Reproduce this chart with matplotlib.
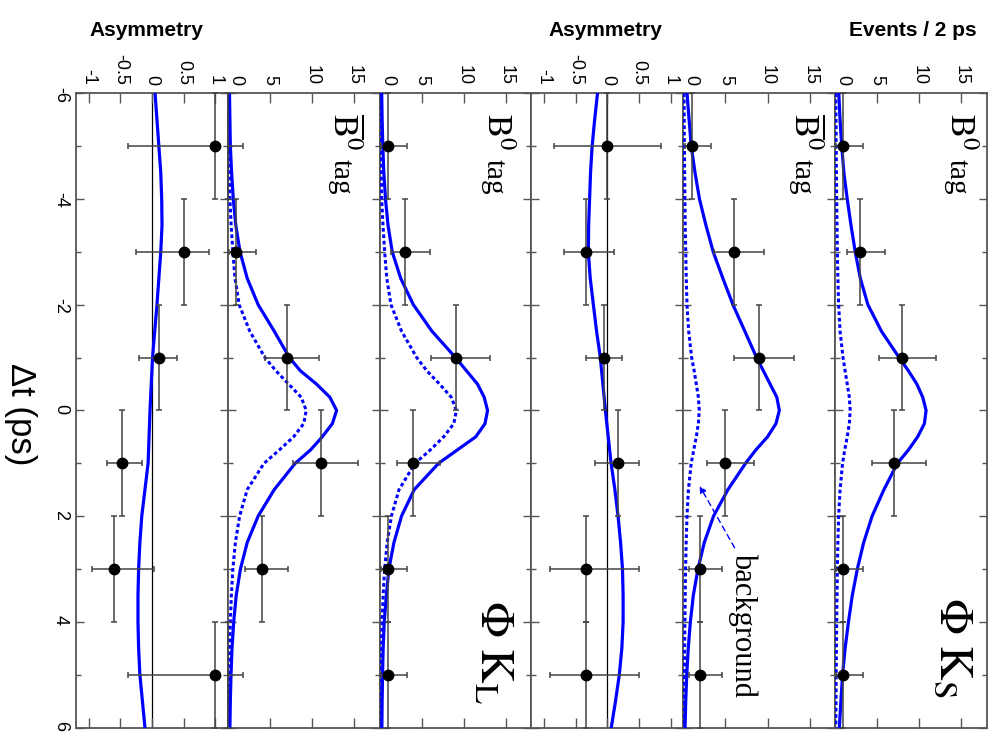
import numpy as np
import matplotlib
matplotlib.use("Agg")
import matplotlib.pyplot as plt
from matplotlib.ticker import MultipleLocator
from matplotlib.transforms import ScaledTranslation

plt.rcParams['font.family'] = ['Liberation Sans', 'DejaVu Sans']
plt.rcParams['mathtext.fontset'] = 'stix'
plt.rcParams['axes.unicode_minus'] = False

# 2 ps bins in delta t
dt_bins = [-5, -3, -1, 1, 3, 5]

# events per bin and their error bar ends
phiks_b0 = [1, 3, 8, 7, 1, 1]
phiks_b0_lo = [0.17, 1.37, 5.23, 4.42, 0.17, 0.17]
phiks_b0_hi = [3.30, 5.92, 11.95, 10.77, 3.30, 3.30]
phiks_b0bar = [1, 6, 9, 5, 2, 2]
phiks_b0bar_lo = [0.17, 3.62, 6.06, 2.84, 0.71, 0.71]
phiks_b0bar_hi = [3.30, 9.58, 13.11, 8.38, 4.64, 4.64]
phikl_b0 = [1, 3, 9, 4, 1, 1]
phikl_b0_lo = [0.17, 1.37, 6.06, 2.09, 0.17, 0.17]
phikl_b0_hi = [3.30, 5.92, 13.11, 7.16, 3.30, 3.30]
phikl_b0bar = [0, 1, 7, 11, 4, 0]
phikl_b0bar_lo = [0.0, 0.17, 4.42, 7.73, 2.09, 0.0]
phikl_b0bar_hi = [1.84, 3.30, 10.77, 15.42, 7.16, 1.84]

# asymmetry per bin
phiks_asym = [0.0, -0.33, -0.06, 0.17, -0.33, -0.33]
phiks_asym_lo = [-0.84, -0.68, -0.34, -0.20, -0.90, -0.90]
phiks_asym_hi = [0.85, 0.11, 0.24, 0.50, 0.50, 0.50]
phikl_asym = [1.0, 0.5, 0.12, -0.47, -0.6, 1.0]
phikl_asym_lo = [-0.37, -0.25, -0.20, -0.71, -0.95, -0.37]
phikl_asym_hi = [1.0, 0.90, 0.40, -0.15, 0.04, 1.0]

# fit curves
fit_dt = [-6, -5.5, -5, -4.5, -4, -3.5, -3, -2.5, -2, -1.5, -1, -0.75, -0.5, -0.25,
          0, 0.25, 0.5, 0.75, 1, 1.5, 2, 2.5, 3, 3.5, 4, 4.5, 5, 5.5, 6]
phiks_b0_fit = [0.45, 0.6, 0.8, 1.05, 1.45, 1.9, 2.4, 3.0, 3.9, 5.5, 7.6, 8.7, 9.7, 10.4,
                10.8, 10.6, 9.8, 8.7, 7.4, 5.8, 4.4, 3.4, 2.65, 2.05, 1.6, 1.2, 0.9, 0.7, 0.52]
phiks_b0bar_fit = [0.45, 0.7, 0.95, 1.4, 1.93, 2.7, 3.56, 4.7, 5.9, 7.3, 8.7, 9.5, 10.3, 11.1,
                   11.4, 11.0, 10.0, 8.6, 7.4, 5.3, 3.6, 2.5, 1.75, 1.2, 0.85, 0.6, 0.42, 0.3, 0.22]
phiks_b0_bkg = [0.1, 0.12, 0.14, 0.17, 0.2, 0.24, 0.28, 0.34, 0.43, 0.6, 0.95, 1.2, 1.45, 1.7,
                1.8, 1.7, 1.45, 1.15, 0.9, 0.6, 0.43, 0.34, 0.28, 0.24, 0.2, 0.17, 0.14, 0.12, 0.1]
phiks_b0bar_bkg = [0.1, 0.12, 0.14, 0.17, 0.2, 0.24, 0.3, 0.36, 0.45, 0.65, 1.0, 1.3, 1.55, 1.8,
                   1.9, 1.8, 1.55, 1.25, 0.95, 0.62, 0.45, 0.35, 0.28, 0.24, 0.2, 0.17, 0.14, 0.12, 0.1]
phikl_b0_fit = [0.25, 0.3, 0.38, 0.5, 0.7, 1.0, 1.5, 2.5, 4.0, 6.2, 9.0, 10.3, 11.6, 12.4,
                12.8, 12.5, 11.4, 9.2, 7.0, 4.1, 2.6, 1.7, 1.1, 0.8, 0.55, 0.42, 0.35, 0.3, 0.27]
phikl_b0bar_fit = [0.2, 0.25, 0.3, 0.45, 0.65, 0.95, 1.45, 2.3, 3.6, 5.5, 7.3, 8.6, 10.5, 12.1,
                   12.9, 12.4, 11.2, 9.8, 8.0, 5.5, 3.6, 2.3, 1.5, 1.0, 0.7, 0.5, 0.38, 0.3, 0.25]
phikl_b0_bkg = [0.1, 0.12, 0.15, 0.2, 0.25, 0.4, 0.6, 0.85, 1.35, 2.6, 4.4, 5.6, 7.1, 8.5,
                9.1, 8.8, 7.6, 6.0, 4.2, 2.3, 1.4, 0.9, 0.6, 0.42, 0.3, 0.22, 0.17, 0.13, 0.1]
phikl_b0bar_bkg = [0.1, 0.12, 0.15, 0.2, 0.25, 0.4, 0.6, 0.85, 1.35, 2.6, 4.4, 5.7, 7.2, 8.7,
                   9.3, 9.0, 7.8, 6.1, 4.3, 2.3, 1.4, 0.9, 0.6, 0.42, 0.3, 0.22, 0.17, 0.13, 0.1]

asym_dt = [-6, -5.5, -5, -4.5, -4, -3.5, -3, -2.5, -2, -1.5, -1, -0.5, 0,
           0.5, 1, 1.5, 2, 2.5, 3, 3.5, 4, 4.5, 5, 5.5, 6]
phiks_asym_fit = [-0.155, -0.2, -0.24, -0.265, -0.28, -0.295, -0.3, -0.27, -0.22, -0.17, -0.11,
                  -0.07, -0.03, 0.015, 0.06, 0.12, 0.17, 0.21, 0.24, 0.25, 0.25, 0.23, 0.19, 0.13, 0.063]
phikl_asym_fit = [0.05, 0.08, 0.11, 0.14, 0.155, 0.16, 0.14, 0.11, 0.08, 0.045, 0.01, -0.01, -0.03,
                  -0.045, -0.06, -0.11, -0.16, -0.19, -0.21, -0.22, -0.22, -0.21, -0.19, -0.15, -0.11]

W, H = 995, 743
fig = plt.figure(figsize=(W / 100, H / 100), dpi=100)

frame_col = '#555555'
blue = '#0000ff'
x0, pw = 76, 151.8
top, bot = 93.3, 727.5


def make_panel(i, asym):
    ax = fig.add_axes([(x0 + i * pw) / W, 1 - bot / H, pw / W, (bot - top) / H])
    ax.set_ylim(6, -6)
    if asym:
        ax.set_xlim(-1.2, 1.2)
        ax.set_xticks([-1, -0.5, 0, 0.5, 1], ['-1', '-0.5', '0', '0.5', '1'])
        ax.axvline(0, color='black', lw=0.9, zorder=1)
    else:
        ax.set_xlim(0, 18)
        ax.set_xticks([0, 5, 10, 15], ['0', '5', '10', '15'])
    ax.yaxis.set_major_locator(MultipleLocator(2))
    ax.yaxis.set_minor_locator(MultipleLocator(1))
    ax.tick_params(axis='x', which='both', direction='in', top=True, bottom=True,
                   labeltop=True, labelbottom=False, labelrotation=270,
                   length=7, width=1, color=frame_col, labelsize=13, pad=6)
    ax.tick_params(axis='y', which='major', direction='in', left=True, right=True,
                   labelleft=(i == 0), labelright=False, labelrotation=270,
                   length=6, width=1, color=frame_col, labelsize=13, pad=5)
    ax.tick_params(axis='y', which='minor', direction='in', left=True, right=True,
                   length=3.5, width=1, color=frame_col)
    for s in ax.spines.values():
        s.set_color(frame_col)
        s.set_linewidth(1.3)
    if not asym:
        # nudge the "0" label off the panel boundary
        lab = ax.xaxis.get_major_ticks()[0].label2
        lab.set_transform(lab.get_transform() + ScaledTranslation(8 / 100, 0, fig.dpi_scale_trans))
    return ax


def draw_points(ax, vals, lo, hi):
    v = np.array(vals, dtype=float)
    xerr = [v - np.array(lo), np.array(hi) - v]
    ax.errorbar(v, dt_bins, xerr=xerr, yerr=1, fmt='none', ecolor='#444444',
                elinewidth=1.1, capsize=2.5, capthick=1.1, zorder=4, clip_on=False)
    # empty bins get bars but no marker
    keep = v > 0 if ax.get_xlim()[0] == 0 else np.ones(len(v), bool)
    ax.plot(v[keep], np.array(dt_bins)[keep], 'o', color='black', ms=7.5, zorder=5,
            clip_on=False)


panels = [
    ('asym', phikl_asym, phikl_asym_lo, phikl_asym_hi, phikl_asym_fit, None),
    ('ev', phikl_b0bar, phikl_b0bar_lo, phikl_b0bar_hi, phikl_b0bar_fit, phikl_b0bar_bkg),
    ('ev', phikl_b0, phikl_b0_lo, phikl_b0_hi, phikl_b0_fit, phikl_b0_bkg),
    ('asym', phiks_asym, phiks_asym_lo, phiks_asym_hi, phiks_asym_fit, None),
    ('ev', phiks_b0bar, phiks_b0bar_lo, phiks_b0bar_hi, phiks_b0bar_fit, phiks_b0bar_bkg),
    ('ev', phiks_b0, phiks_b0_lo, phiks_b0_hi, phiks_b0_fit, phiks_b0_bkg),
]

axes = []
for i, (kind, vals, lo, hi, fit, bkg) in enumerate(panels):
    ax = make_panel(i, kind == 'asym')
    if kind == 'asym':
        ax.plot(fit, asym_dt, color=blue, lw=2.3, zorder=3)
    else:
        ax.plot(fit, fit_dt, color=blue, lw=2.3, zorder=3)
        ax.plot(bkg, fit_dt, color=blue, lw=2.2, ls=(0, (1.2, 0.9)), zorder=3)
    draw_points(ax, vals, lo, hi)
    axes.append(ax)

# tag labels: big B with superscript, smaller "tag" after it
rot_kw = dict(rotation=270, rotation_mode='anchor', ha='left', va='baseline')
tag_pos = [(1, 12.6, True), (2, 12.75, False), (4, 13.25, True), (5, 13.6, False)]
for idx, xb, bar in tag_pos:
    b = r'$\overline{\mathrm{B}}^{0}$' if bar else r'$\mathrm{B}^{0}$'
    axes[idx].text(xb, -5.62, b, fontsize=25, **rot_kw)
    axes[idx].text(xb, -4.76, 'tag', fontsize=21, family='Liberation Serif', **rot_kw)

# decay mode labels
mode_kw = dict(rotation=270, rotation_mode='anchor', ha='left', va='baseline', fontsize=34)
axes[2].text(12.0, 3.59, r'$\Phi\ \mathrm{K}_{\mathrm{L}}$', **mode_kw)
axes[5].text(12.45, 3.53, r'$\Phi\ \mathrm{K}_{\mathrm{S}}$', **mode_kw)

# background annotation
axes[4].text(6.2, 2.7, 'background', fontsize=22, family='Liberation Serif', **rot_kw)
axes[4].annotate('', xy=(1.95, 1.43), xytext=(6.1, 2.6),
                 arrowprops=dict(arrowstyle='-|>', color=blue, lw=1.0, ls=(0, (4, 3)),
                                 shrinkA=0, shrinkB=0, mutation_scale=10))

fig.text(146 / W, 1 - 31 / H, 'Asymmetry', ha='center', va='center', fontsize=15, fontweight='bold')
fig.text(605 / W, 1 - 31 / H, 'Asymmetry', ha='center', va='center', fontsize=15, fontweight='bold')
fig.text(913 / W, 1 - 31 / H, 'Events / 2 ps', ha='center', va='center', fontsize=15, fontweight='bold')
fig.text(20 / W, 1 - 414 / H, 'Δt (ps)', rotation=270, ha='center', va='center', fontsize=25)

fig.savefig('out.png', dpi=100)
